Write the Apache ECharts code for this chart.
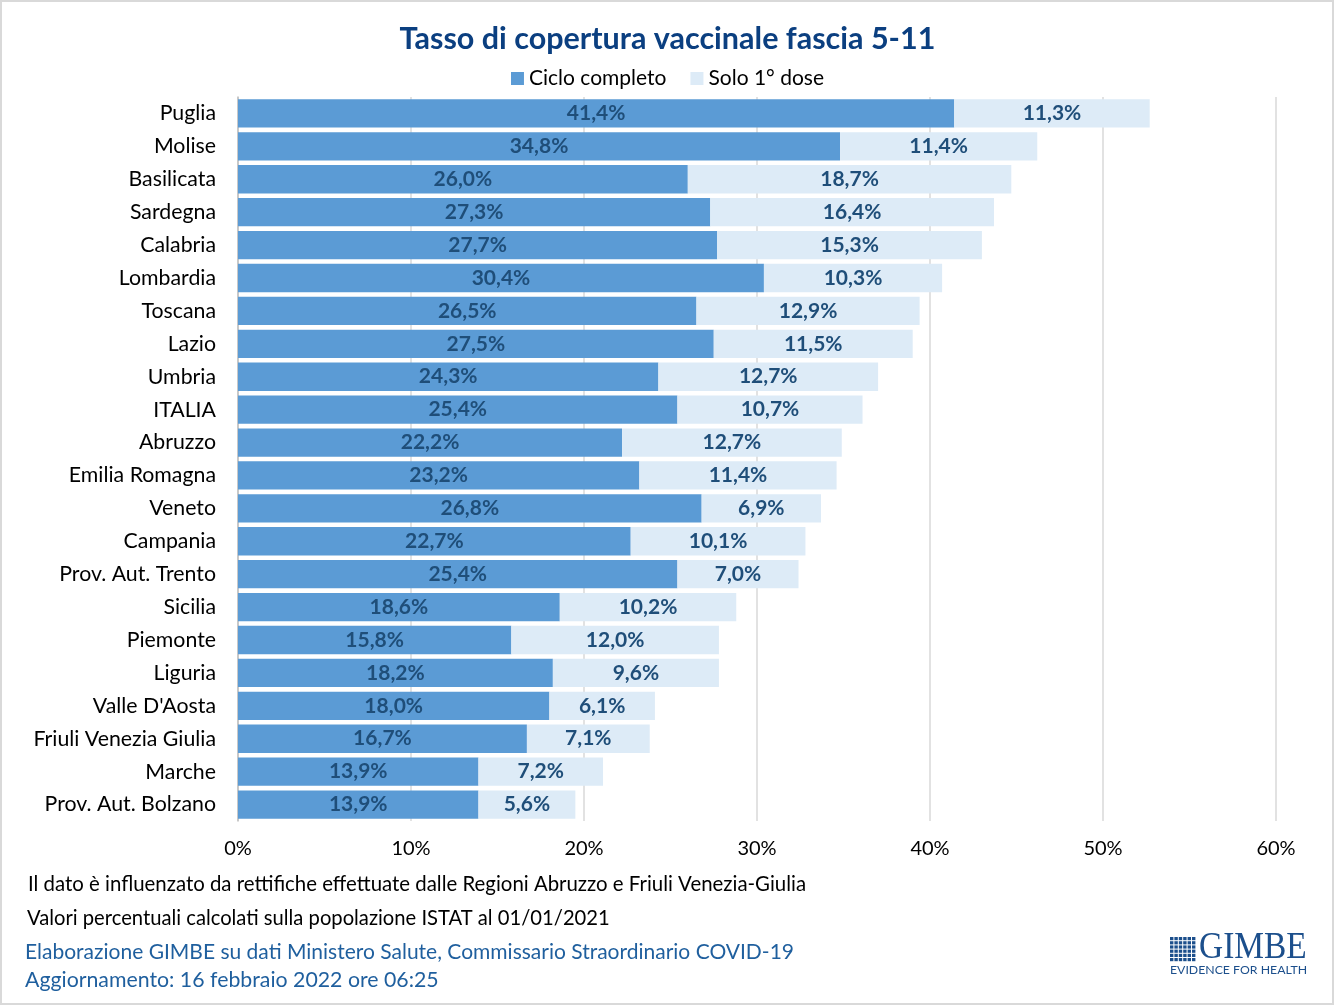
<!DOCTYPE html>
<html><head><meta charset="utf-8">
<script src="https://cdn.jsdelivr.net/npm/echarts@6/dist/echarts.min.js"></script>
<style>html,body{margin:0;padding:0;background:#fff}#c{width:1335px;height:1006px}</style>
</head><body><div id="c"></div>
<script>
var categories = ["Puglia","Molise","Basilicata","Sardegna","Calabria","Lombardia","Toscana","Lazio","Umbria","ITALIA","Abruzzo","Emilia Romagna","Veneto","Campania","Prov. Aut. Trento","Sicilia","Piemonte","Liguria","Valle D'Aosta","Friuli Venezia Giulia","Marche","Prov. Aut. Bolzano"];
var cicloCompleto = [41.4,34.8,26.0,27.3,27.7,30.4,26.5,27.5,24.3,25.4,22.2,23.2,26.8,22.7,25.4,18.6,15.8,18.2,18.0,16.7,13.9,13.9];
var solo1Dose = [11.3,11.4,18.7,16.4,15.3,10.3,12.9,11.5,12.7,10.7,12.7,11.4,6.9,10.1,7.0,10.2,12.0,9.6,6.1,7.1,7.2,5.6];
var xTicks = [0,10,20,30,40,50,60];

var FONT = 'Lato, "Open Sans", sans-serif';
var chart = echarts.init(document.getElementById('c'), null, {renderer:'canvas'});
function pct(v){ return v.toFixed(1).replace('.', ',') + '%'; }
var labelStyle = {show:true, position:'inside', fontFamily:FONT, fontSize:21, fontWeight:'bold', color:'#1f4e79',
  formatter:function(p){ return pct(p.value); }};

var gridCells = [];
for (var r=0;r<6;r++) for (var c=0;c<6;c++) {
  gridCells.push({type:'rect', shape:{x:1170+c*4.4, y:937+r*4.2, width:3.4, height:3.2}, style:{fill:'#1c4f8c'}});
}

chart.setOption({
  backgroundColor:'#fff',
  animation:false,
  title:{text:'Tasso di copertura vaccinale fascia 5-11', left:'center', top:19,
    textStyle:{fontFamily:FONT, fontSize:30.5, fontWeight:'bold', color:'#0b3f80'}},
  legend:{top:63, left:'center', itemWidth:13, itemHeight:13, itemGap:24, icon:'rect',
    textStyle:{fontFamily:FONT, fontSize:21, color:'#000'},
    data:['Ciclo completo','Solo 1° dose']},
  grid:{left:238, right:59, top:97, bottom:185, containLabel:false},
  xAxis:{type:'value', min:0, max:60, interval:10,
    axisLabel:{fontFamily:FONT, fontSize:20, color:'#000', margin:18, formatter:function(v){return v+'%';}},
    splitLine:{lineStyle:{color:'#d9d9d9', width:1.5}},
    axisLine:{show:false}, axisTick:{show:false}},
  yAxis:{type:'category', data:categories, inverse:true,
    axisLabel:{fontFamily:FONT, fontSize:21.3, color:'#000', margin:22},
    axisLine:{show:true, lineStyle:{color:'#bfbfbf', width:1.5}}, axisTick:{show:false}},
  series:[
    {name:'Ciclo completo', type:'bar', stack:'t', data:cicloCompleto, barCategoryGap:'14%',
     itemStyle:{color:'#5b9bd5'}, label:labelStyle},
    {name:'Solo 1° dose', type:'bar', stack:'t', data:solo1Dose, barCategoryGap:'14%',
     itemStyle:{color:'#ddebf7'}, label:labelStyle}
  ],
  graphic:[
    {type:'rect', shape:{x:1, y:1, width:1332, height:1003}, style:{fill:'none', stroke:'#d9d9d9', lineWidth:2}, silent:true},
    {type:'text', left:28, top:874, style:{text:'Il dato è influenzato da rettifiche effettuate dalle Regioni Abruzzo e Friuli Venezia-Giulia', fontFamily:FONT, fontSize:20.4, fill:'#000'}},
    {type:'text', left:27, top:908, style:{text:'Valori percentuali calcolati sulla popolazione ISTAT al 01/01/2021', fontFamily:FONT, fontSize:20.2, fill:'#000'}},
    {type:'text', left:25, top:942, style:{text:'Elaborazione GIMBE su dati Ministero Salute, Commissario Straordinario COVID-19', fontFamily:FONT, fontSize:21, fill:'#1f5f9e'}},
    {type:'text', left:25, top:970, style:{text:'Aggiornamento: 16 febbraio 2022 ore 06:25', fontFamily:FONT, fontSize:21.3, fill:'#1f5f9e'}},
    {type:'group', children:gridCells},
    {type:'text', x:1199, y:929, scaleX:0.88, style:{text:'GIMBE', fontFamily:'"Liberation Serif", "DejaVu Serif", serif', fontSize:38, fill:'#1c4f8c'}},
    {type:'text', x:1170, y:965, scaleX:1.17, style:{text:'EVIDENCE FOR HEALTH', fontFamily:FONT, fontSize:10.5, fill:'#1c4f8c'}}
  ]
});
</script></body></html>
